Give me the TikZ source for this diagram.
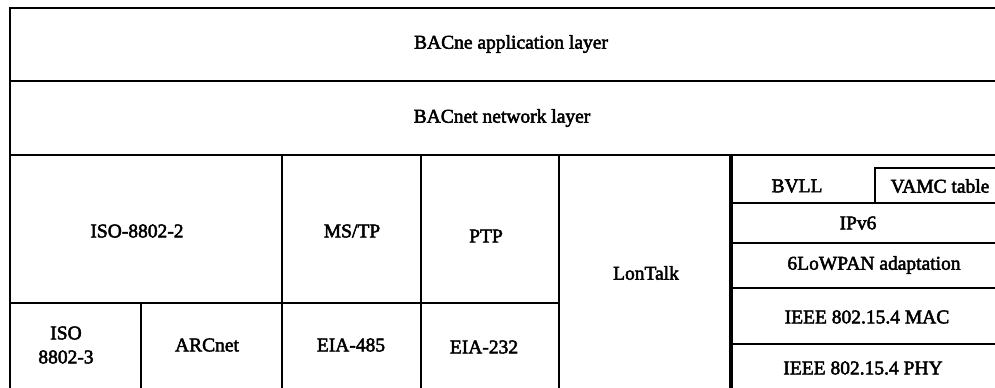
\documentclass[tikz,border=0pt]{standalone}
\usepackage{fontspec}
\setmainfont{Liberation Serif}
\newfontfamily\layerfont[FakeBold=2.5]{Liberation Serif}

\begin{document}
\begin{tikzpicture}[x=0.5pt, y=-0.5pt, line cap = rect, line width=1.4pt]
            \tikzset{lbl/.style={font=\layerfont\fontsize{9.75}{12}\selectfont, inner sep=0pt, align=center}}
            \useasboundingbox (0,0) rectangle (995,387);
            \clip (0,0) rectangle (995,387);
            % upper layers
            \draw (1012,8) -- (10,8) -- (10,400); % outer frame
            \draw (10,81) -- (1012,81);
            \draw (10,155) -- (1012,155);
            \node[lbl] (app) at (511,44) {BACne application layer};
            \node[lbl] (net) at (502,118) {BACnet network layer};
            % data link columns
            \draw (282,155) -- (282,400);
            \draw (421,155) -- (421,400);
            \draw (559,155) -- (559,400);
            \draw[line width=1.6pt, line cap=butt] (731,155) -- (731,400);
            \draw (10,303) -- (559,303);
            \draw (141,303) -- (141,400);
            \node[lbl] (iso2) at (137,231) {ISO-8802-2};
            \node[lbl] (mstp) at (352,231) {MS/TP};
            \node[lbl] (ptp) at (486,236) {PTP};
            \node[lbl] (lon) at (646,273) {LonTalk};
            \node[lbl] (iso3) at (66,345) {ISO\\8802-3};
            \node[lbl] (arc) at (207,345) {ARCnet};
            \node[lbl] (eia485) at (351,345) {EIA-485};
            \node[lbl] (eia232) at (484,347) {EIA-232};
            % 6LoWPAN stack
            \draw (875,203) -- (875,168) -- (1012,168); % VAMC table box
            \draw (731,203) -- (1012,203);
            \draw (731,243) -- (1012,243);
            \draw (731,288) -- (1012,288);
            \draw (731,344) -- (1012,344);
            \node[lbl] (bvll) at (797,186) {BVLL};
            \node[lbl] (vamc) at (940,186) {VAMC table};
            \node[lbl] (ipv6) at (858,223) {IPv6};
            \node[lbl] (lowpan) at (874,265) {6LoWPAN adaptation};
            \node[lbl] (mac) at (867,317) {IEEE 802.15.4 MAC};
            \node[lbl] (phy) at (863,368) {IEEE 802.15.4 PHY};
        \end{tikzpicture}
\end{document}
